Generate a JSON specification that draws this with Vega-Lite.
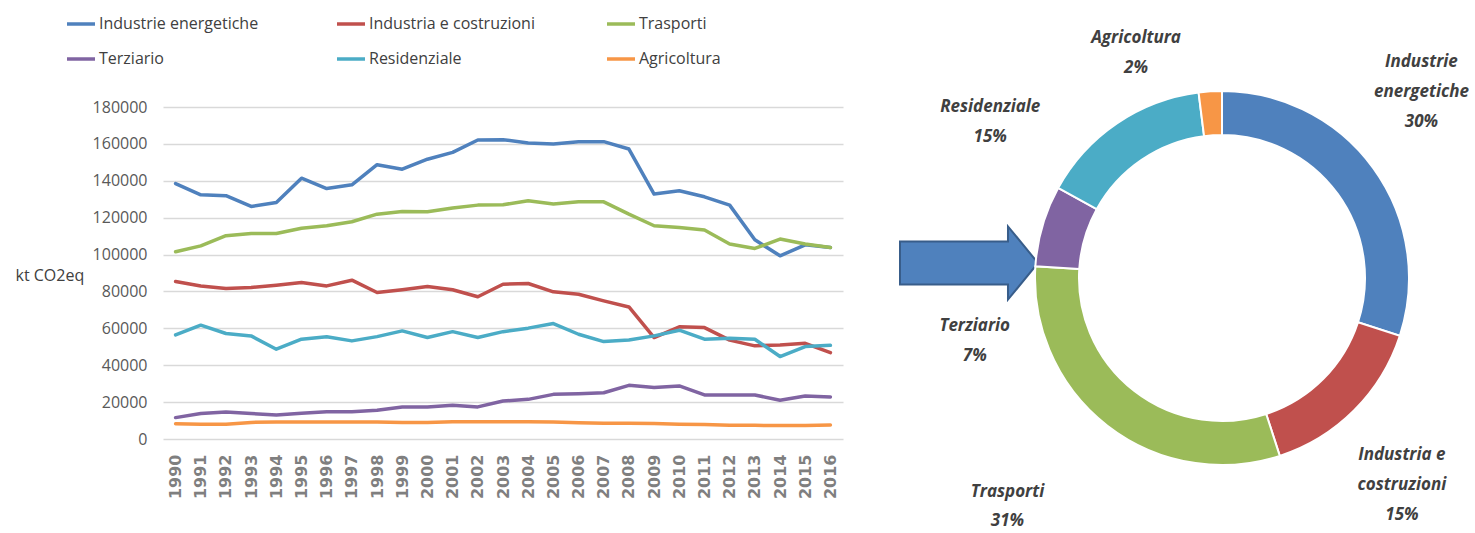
{
  "$schema": "https://vega.github.io/schema/vega-lite/v6.json",
  "background": "white",
  "padding": {"left": 15, "top": 8, "right": 0, "bottom": 0},
  "config": {"view": {"stroke": null}, "font": "Open Sans"},
  "bounds": "flush",
  "spacing": 0,
  "resolve": {"scale": {"color": "independent"}, "legend": {"color": "independent"}},
  "datasets": {
    "series": [
      {"cat": "Industrie energetiche", "year": "1990", "value": 138500},
      {"cat": "Industrie energetiche", "year": "1991", "value": 132400},
      {"cat": "Industrie energetiche", "year": "1992", "value": 131900},
      {"cat": "Industrie energetiche", "year": "1993", "value": 126100},
      {"cat": "Industrie energetiche", "year": "1994", "value": 128200},
      {"cat": "Industrie energetiche", "year": "1995", "value": 141400},
      {"cat": "Industrie energetiche", "year": "1996", "value": 135800},
      {"cat": "Industrie energetiche", "year": "1997", "value": 137800},
      {"cat": "Industrie energetiche", "year": "1998", "value": 148700},
      {"cat": "Industrie energetiche", "year": "1999", "value": 146300},
      {"cat": "Industrie energetiche", "year": "2000", "value": 151700},
      {"cat": "Industrie energetiche", "year": "2001", "value": 155400},
      {"cat": "Industrie energetiche", "year": "2002", "value": 162100},
      {"cat": "Industrie energetiche", "year": "2003", "value": 162300},
      {"cat": "Industrie energetiche", "year": "2004", "value": 160500},
      {"cat": "Industrie energetiche", "year": "2005", "value": 159900},
      {"cat": "Industrie energetiche", "year": "2006", "value": 161200},
      {"cat": "Industrie energetiche", "year": "2007", "value": 161200},
      {"cat": "Industrie energetiche", "year": "2008", "value": 157200},
      {"cat": "Industrie energetiche", "year": "2009", "value": 132800},
      {"cat": "Industrie energetiche", "year": "2010", "value": 134600},
      {"cat": "Industrie energetiche", "year": "2011", "value": 131300},
      {"cat": "Industrie energetiche", "year": "2012", "value": 126800},
      {"cat": "Industrie energetiche", "year": "2013", "value": 108000},
      {"cat": "Industrie energetiche", "year": "2014", "value": 99300},
      {"cat": "Industrie energetiche", "year": "2015", "value": 105300},
      {"cat": "Industrie energetiche", "year": "2016", "value": 103800},
      {"cat": "Industria e costruzioni", "year": "1990", "value": 85400},
      {"cat": "Industria e costruzioni", "year": "1991", "value": 83000},
      {"cat": "Industria e costruzioni", "year": "1992", "value": 81600},
      {"cat": "Industria e costruzioni", "year": "1993", "value": 82100},
      {"cat": "Industria e costruzioni", "year": "1994", "value": 83400},
      {"cat": "Industria e costruzioni", "year": "1995", "value": 84900},
      {"cat": "Industria e costruzioni", "year": "1996", "value": 83000},
      {"cat": "Industria e costruzioni", "year": "1997", "value": 86100},
      {"cat": "Industria e costruzioni", "year": "1998", "value": 79400},
      {"cat": "Industria e costruzioni", "year": "1999", "value": 80900},
      {"cat": "Industria e costruzioni", "year": "2000", "value": 82700},
      {"cat": "Industria e costruzioni", "year": "2001", "value": 80900},
      {"cat": "Industria e costruzioni", "year": "2002", "value": 77100},
      {"cat": "Industria e costruzioni", "year": "2003", "value": 83900},
      {"cat": "Industria e costruzioni", "year": "2004", "value": 84300},
      {"cat": "Industria e costruzioni", "year": "2005", "value": 79800},
      {"cat": "Industria e costruzioni", "year": "2006", "value": 78500},
      {"cat": "Industria e costruzioni", "year": "2007", "value": 74900},
      {"cat": "Industria e costruzioni", "year": "2008", "value": 71600},
      {"cat": "Industria e costruzioni", "year": "2009", "value": 55000},
      {"cat": "Industria e costruzioni", "year": "2010", "value": 60800},
      {"cat": "Industria e costruzioni", "year": "2011", "value": 60400},
      {"cat": "Industria e costruzioni", "year": "2012", "value": 53600},
      {"cat": "Industria e costruzioni", "year": "2013", "value": 50500},
      {"cat": "Industria e costruzioni", "year": "2014", "value": 51000},
      {"cat": "Industria e costruzioni", "year": "2015", "value": 51900},
      {"cat": "Industria e costruzioni", "year": "2016", "value": 46800},
      {"cat": "Trasporti", "year": "1990", "value": 101500},
      {"cat": "Trasporti", "year": "1991", "value": 104700},
      {"cat": "Trasporti", "year": "1992", "value": 110200},
      {"cat": "Trasporti", "year": "1993", "value": 111400},
      {"cat": "Trasporti", "year": "1994", "value": 111400},
      {"cat": "Trasporti", "year": "1995", "value": 114300},
      {"cat": "Trasporti", "year": "1996", "value": 115600},
      {"cat": "Trasporti", "year": "1997", "value": 117800},
      {"cat": "Trasporti", "year": "1998", "value": 121900},
      {"cat": "Trasporti", "year": "1999", "value": 123400},
      {"cat": "Trasporti", "year": "2000", "value": 123200},
      {"cat": "Trasporti", "year": "2001", "value": 125200},
      {"cat": "Trasporti", "year": "2002", "value": 126800},
      {"cat": "Trasporti", "year": "2003", "value": 127000},
      {"cat": "Trasporti", "year": "2004", "value": 129200},
      {"cat": "Trasporti", "year": "2005", "value": 127400},
      {"cat": "Trasporti", "year": "2006", "value": 128600},
      {"cat": "Trasporti", "year": "2007", "value": 128600},
      {"cat": "Trasporti", "year": "2008", "value": 121900},
      {"cat": "Trasporti", "year": "2009", "value": 115600},
      {"cat": "Trasporti", "year": "2010", "value": 114700},
      {"cat": "Trasporti", "year": "2011", "value": 113300},
      {"cat": "Trasporti", "year": "2012", "value": 105700},
      {"cat": "Trasporti", "year": "2013", "value": 103300},
      {"cat": "Trasporti", "year": "2014", "value": 108400},
      {"cat": "Trasporti", "year": "2015", "value": 105700},
      {"cat": "Trasporti", "year": "2016", "value": 103800},
      {"cat": "Terziario", "year": "1990", "value": 11600},
      {"cat": "Terziario", "year": "1991", "value": 13800},
      {"cat": "Terziario", "year": "1992", "value": 14700},
      {"cat": "Terziario", "year": "1993", "value": 13800},
      {"cat": "Terziario", "year": "1994", "value": 13000},
      {"cat": "Terziario", "year": "1995", "value": 13900},
      {"cat": "Terziario", "year": "1996", "value": 14800},
      {"cat": "Terziario", "year": "1997", "value": 14800},
      {"cat": "Terziario", "year": "1998", "value": 15600},
      {"cat": "Terziario", "year": "1999", "value": 17400},
      {"cat": "Terziario", "year": "2000", "value": 17400},
      {"cat": "Terziario", "year": "2001", "value": 18300},
      {"cat": "Terziario", "year": "2002", "value": 17400},
      {"cat": "Terziario", "year": "2003", "value": 20600},
      {"cat": "Terziario", "year": "2004", "value": 21500},
      {"cat": "Terziario", "year": "2005", "value": 24200},
      {"cat": "Terziario", "year": "2006", "value": 24600},
      {"cat": "Terziario", "year": "2007", "value": 25100},
      {"cat": "Terziario", "year": "2008", "value": 29100},
      {"cat": "Terziario", "year": "2009", "value": 27900},
      {"cat": "Terziario", "year": "2010", "value": 28800},
      {"cat": "Terziario", "year": "2011", "value": 23900},
      {"cat": "Terziario", "year": "2012", "value": 23900},
      {"cat": "Terziario", "year": "2013", "value": 23900},
      {"cat": "Terziario", "year": "2014", "value": 21000},
      {"cat": "Terziario", "year": "2015", "value": 23300},
      {"cat": "Terziario", "year": "2016", "value": 22800},
      {"cat": "Residenziale", "year": "1990", "value": 56400},
      {"cat": "Residenziale", "year": "1991", "value": 61700},
      {"cat": "Residenziale", "year": "1992", "value": 57200},
      {"cat": "Residenziale", "year": "1993", "value": 55900},
      {"cat": "Residenziale", "year": "1994", "value": 48700},
      {"cat": "Residenziale", "year": "1995", "value": 54100},
      {"cat": "Residenziale", "year": "1996", "value": 55400},
      {"cat": "Residenziale", "year": "1997", "value": 53200},
      {"cat": "Residenziale", "year": "1998", "value": 55500},
      {"cat": "Residenziale", "year": "1999", "value": 58600},
      {"cat": "Residenziale", "year": "2000", "value": 55000},
      {"cat": "Residenziale", "year": "2001", "value": 58200},
      {"cat": "Residenziale", "year": "2002", "value": 55000},
      {"cat": "Residenziale", "year": "2003", "value": 58200},
      {"cat": "Residenziale", "year": "2004", "value": 60100},
      {"cat": "Residenziale", "year": "2005", "value": 62600},
      {"cat": "Residenziale", "year": "2006", "value": 56800},
      {"cat": "Residenziale", "year": "2007", "value": 52800},
      {"cat": "Residenziale", "year": "2008", "value": 53700},
      {"cat": "Residenziale", "year": "2009", "value": 55900},
      {"cat": "Residenziale", "year": "2010", "value": 59000},
      {"cat": "Residenziale", "year": "2011", "value": 54100},
      {"cat": "Residenziale", "year": "2012", "value": 54600},
      {"cat": "Residenziale", "year": "2013", "value": 54100},
      {"cat": "Residenziale", "year": "2014", "value": 44700},
      {"cat": "Residenziale", "year": "2015", "value": 50100},
      {"cat": "Residenziale", "year": "2016", "value": 50800},
      {"cat": "Agricoltura", "year": "1990", "value": 8300},
      {"cat": "Agricoltura", "year": "1991", "value": 8000},
      {"cat": "Agricoltura", "year": "1992", "value": 8000},
      {"cat": "Agricoltura", "year": "1993", "value": 9000},
      {"cat": "Agricoltura", "year": "1994", "value": 9200},
      {"cat": "Agricoltura", "year": "1995", "value": 9200},
      {"cat": "Agricoltura", "year": "1996", "value": 9200},
      {"cat": "Agricoltura", "year": "1997", "value": 9200},
      {"cat": "Agricoltura", "year": "1998", "value": 9200},
      {"cat": "Agricoltura", "year": "1999", "value": 9000},
      {"cat": "Agricoltura", "year": "2000", "value": 9000},
      {"cat": "Agricoltura", "year": "2001", "value": 9400},
      {"cat": "Agricoltura", "year": "2002", "value": 9400},
      {"cat": "Agricoltura", "year": "2003", "value": 9400},
      {"cat": "Agricoltura", "year": "2004", "value": 9400},
      {"cat": "Agricoltura", "year": "2005", "value": 9200},
      {"cat": "Agricoltura", "year": "2006", "value": 8800},
      {"cat": "Agricoltura", "year": "2007", "value": 8500},
      {"cat": "Agricoltura", "year": "2008", "value": 8500},
      {"cat": "Agricoltura", "year": "2009", "value": 8400},
      {"cat": "Agricoltura", "year": "2010", "value": 8000},
      {"cat": "Agricoltura", "year": "2011", "value": 7800},
      {"cat": "Agricoltura", "year": "2012", "value": 7400},
      {"cat": "Agricoltura", "year": "2013", "value": 7400},
      {"cat": "Agricoltura", "year": "2014", "value": 7300},
      {"cat": "Agricoltura", "year": "2015", "value": 7300},
      {"cat": "Agricoltura", "year": "2016", "value": 7600}
    ],
    "share": [
      {"cat": "Industrie energetiche", "label": "Industrie\nenergetiche", "pct": 30, "ord": 1},
      {"cat": "Industria e costruzioni", "label": "Industria e\ncostruzioni", "pct": 15, "ord": 2},
      {"cat": "Trasporti", "label": "Trasporti", "pct": 31, "ord": 3},
      {"cat": "Terziario", "label": "Terziario", "pct": 7, "ord": 4},
      {"cat": "Residenziale", "label": "Residenziale", "pct": 15, "ord": 5},
      {"cat": "Agricoltura", "label": "Agricoltura", "pct": 2, "ord": 6}
    ],
    "arrow": [{"symbol": "arrow"}]
  },
  "hconcat": [
    {
      "width": 680,
      "height": 332,
      "data": {"name": "series"},
      "mark": {"type": "line", "strokeWidth": 3.5, "strokeJoin": "round", "strokeCap": "round"},
      "encoding": {
        "x": {
          "field": "year", "type": "ordinal",
          "scale": {"type": "point", "padding": 0.5},
          "axis": {"title": null, "labelAngle": -90, "labelFont": "DejaVu Sans", "labelFontWeight": "bold", "labelFontSize": 16, "labelColor": "#7f7f7f", "ticks": false, "domain": false, "grid": false, "labelPadding": 15}
        },
        "y": {
          "field": "value", "type": "quantitative",
          "scale": {"domain": [0, 180000], "nice": false},
          "axis": {
            "title": "kt CO2eq", "titleAngle": 0, "titleFontWeight": "normal", "titleFontSize": 16, "titleColor": "#404040", "titleX": -148, "titleY": 168, "titleAlign": "left", "titleBaseline": "middle",
            "values": [0, 20000, 40000, 60000, 80000, 100000, 120000, 140000, 160000, 180000], "format": "d",
            "labelFontSize": 16, "labelColor": "#595959", "labelPadding": 16, "ticks": false, "domain": false,
            "grid": true, "gridColor": "#d9d9d9", "gridWidth": 1.5
          }
        },
        "color": {
          "field": "cat", "type": "nominal",
          "scale": {"domain": ["Industrie energetiche", "Industria e costruzioni", "Trasporti", "Terziario", "Residenziale", "Agricoltura"], "range": ["#4F81BD", "#C0504D", "#9BBB59", "#8064A2", "#4BACC6", "#F79646"]},
          "legend": {
            "title": null, "orient": "none", "legendX": -98, "legendY": -99, "columns": 3, "direction": "horizontal",
            "symbolType": "stroke", "symbolSize": 784, "symbolStrokeWidth": 3.5, "labelFontSize": 16, "labelColor": "#404040",
            "labelOffset": 2, "labelLimit": 400, "padding": 0, "rowPadding": 11, "columnPadding": 65, "gridAlign": "all"
          }
        }
      }
    },
    {
      "width": 252,
      "height": 312,
      "data": {"name": "arrow"},
      "mark": {"type": "point", "shape": "M-1,-0.31L0.565,-0.31L0.565,-0.53L1,0L0.565,0.53L0.565,0.31L-1,0.31Z", "size": 19044, "filled": true, "fill": "#4F81BD", "stroke": "#385D8A", "strokeWidth": 2, "opacity": 1},
      "encoding": {}
    },
    {
      "width": 254,
      "height": 342,
      "data": {"name": "share"},
      "transform": [
        {"stack": "pct", "groupby": [], "sort": [{"field": "ord", "order": "ascending"}], "as": ["s0", "s1"]},
        {"calculate": "(datum.s0 + datum.s1) / 2", "as": "mid"},
        {"calculate": "datum.label + '\\n' + datum.pct + '%'", "as": "txt"}
      ],
      "layer": [
        {
          "mark": {"type": "arc", "outerRadius": 187, "innerRadius": 143, "stroke": "white", "strokeWidth": 2},
          "encoding": {
            "theta": {"field": "s0", "type": "quantitative", "stack": null, "scale": {"domain": [0, 100]}},
            "theta2": {"field": "s1"},
            "color": {
              "field": "cat", "type": "nominal", "legend": null,
              "scale": {"domain": ["Industrie energetiche", "Industria e costruzioni", "Trasporti", "Terziario", "Residenziale", "Agricoltura"], "range": ["#4F81BD", "#C0504D", "#9BBB59", "#8064A2", "#4BACC6", "#F79646"]}
            }
          }
        },
        {
          "transform": [{"filter": "datum.cat === 'Industrie energetiche'"}],
          "mark": {"type": "text", "radius": 270, "dx": -19, "dy": -57, "lineBreak": "\n", "lineHeight": 30, "font": "Open Sans", "fontSize": 17, "fontStyle": "italic", "fontWeight": "bold", "color": "#404040", "align": "center", "baseline": "middle"},
          "encoding": {"theta": {"field": "mid", "type": "quantitative", "stack": null, "scale": {"domain": [0, 100]}}, "text": {"field": "txt"}}
        },
        {
          "transform": [{"filter": "datum.cat === 'Industria e costruzioni'"}],
          "mark": {"type": "text", "radius": 270, "dx": -11, "dy": -14, "lineBreak": "\n", "lineHeight": 30, "font": "Open Sans", "fontSize": 17, "fontStyle": "italic", "fontWeight": "bold", "color": "#404040", "align": "center", "baseline": "middle"},
          "encoding": {"theta": {"field": "mid", "type": "quantitative", "stack": null, "scale": {"domain": [0, 100]}}, "text": {"field": "txt"}}
        },
        {
          "transform": [{"filter": "datum.cat === 'Trasporti'"}],
          "mark": {"type": "text", "radius": 270, "dx": -49, "dy": 1, "lineBreak": "\n", "lineHeight": 29, "font": "Open Sans", "fontSize": 17, "fontStyle": "italic", "fontWeight": "bold", "color": "#404040", "align": "center", "baseline": "middle"},
          "encoding": {"theta": {"field": "mid", "type": "quantitative", "stack": null, "scale": {"domain": [0, 100]}}, "text": {"field": "txt"}}
        },
        {
          "transform": [{"filter": "datum.cat === 'Terziario'"}],
          "mark": {"type": "text", "radius": 270, "dx": 12, "dy": 123, "lineBreak": "\n", "lineHeight": 30, "font": "Open Sans", "fontSize": 17, "fontStyle": "italic", "fontWeight": "bold", "color": "#404040", "align": "center", "baseline": "middle"},
          "encoding": {"theta": {"field": "mid", "type": "quantitative", "stack": null, "scale": {"domain": [0, 100]}}, "text": {"field": "txt"}}
        },
        {
          "transform": [{"filter": "datum.cat === 'Residenziale'"}],
          "mark": {"type": "text", "radius": 270, "dx": -80, "dy": 52, "lineBreak": "\n", "lineHeight": 30, "font": "Open Sans", "fontSize": 17, "fontStyle": "italic", "fontWeight": "bold", "color": "#404040", "align": "center", "baseline": "middle"},
          "encoding": {"theta": {"field": "mid", "type": "quantitative", "stack": null, "scale": {"domain": [0, 100]}}, "text": {"field": "txt"}}
        },
        {
          "transform": [{"filter": "datum.cat === 'Agricoltura'"}],
          "mark": {"type": "text", "radius": 270, "dx": -69, "dy": 29, "lineBreak": "\n", "lineHeight": 30, "font": "Open Sans", "fontSize": 17, "fontStyle": "italic", "fontWeight": "bold", "color": "#404040", "align": "center", "baseline": "middle"},
          "encoding": {"theta": {"field": "mid", "type": "quantitative", "stack": null, "scale": {"domain": [0, 100]}}, "text": {"field": "txt"}}
        }
      ]
    }
  ]
}
